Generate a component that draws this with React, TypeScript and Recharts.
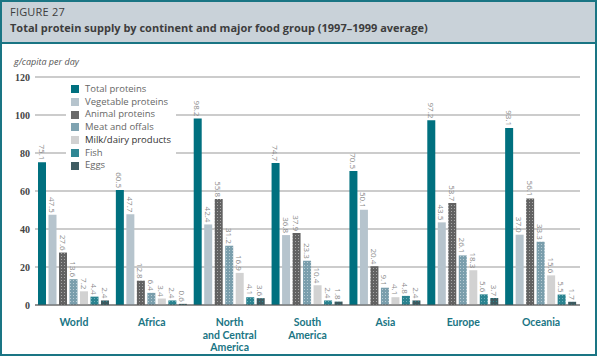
import React from 'react';
import { BarChart, Bar, XAxis, YAxis, CartesianGrid } from 'recharts';

const continents = ['World', 'Africa', 'North and Central America', 'South America', 'Asia', 'Europe', 'Oceania'];
const totalProteins = [75.1, 60.5, 98.2, 74.7, 70.5, 97.2, 93.1];
const vegetableProteins = [47.5, 47.7, 42.4, 36.8, 50.1, 43.5, 37.0];
const animalProteins = [27.6, 12.8, 55.8, 37.9, 20.4, 53.7, 56.1];
const meatOffals = [13.6, 6.4, 31.2, 23.3, 9.1, 26.1, 33.3];
const milkDairy = [7.2, 3.4, 16.9, 10.4, 4.1, 18.3, 15.6];
const fish = [4.4, 2.4, 4.1, 2.4, 4.8, 5.6, 5.5];
const eggs = [2.4, 0.6, 3.6, 1.8, 2.4, 3.7, 1.7];
const yTicks = [0, 20, 40, 60, 80, 100, 120];

const series = [
  { key: 'total', name: 'Total proteins', fill: '#00707f' },
  { key: 'veg', name: 'Vegetable proteins', fill: '#b6c4cd' },
  { key: 'animal', name: 'Animal proteins', fill: 'url(#patAnimal)', swatch: '#6a6a6a' },
  { key: 'meat', name: 'Meat and offals', fill: 'url(#patMeat)', swatch: '#7fa3b1' },
  { key: 'milk', name: 'Milk/dairy products', fill: '#d2d2d2' },
  { key: 'fish', name: 'Fish', fill: 'url(#patFish)', swatch: '#2f8794' },
  { key: 'eggs', name: 'Eggs', fill: 'url(#patEggs)', swatch: '#3f5c62' },
];

const data = continents.map((c, i) => ({
  name: c,
  total: totalProteins[i],
  veg: vegetableProteins[i],
  animal: animalProteins[i],
  meat: meatOffals[i],
  milk: milkDairy[i],
  fish: fish[i],
  eggs: eggs[i],
}));

const TEAL = '#1a7584';
const SANS = '"Open Sans", "DejaVu Sans", sans-serif';

const renderValue = (p: any) => {
  const cx = p.x + p.width / 2;
  const ty = p.y - 2;
  return (
    <text x={cx} y={ty} transform={`rotate(90 ${cx} ${ty})`} textAnchor="end" dominantBaseline="central"
      fontSize={8} fontFamily={SANS} fill="#8a8a8a">
      {Number(p.value).toFixed(1)}
    </text>
  );
};

// multi-line continent names under the axis
const CategoryTick = (props: any) => {
  const { x, y, payload } = props;
  const lines: Record<string, string[]> = {
    'North and Central America': ['North', 'and Central', 'America'],
    'South America': ['South', 'America'],
  };
  const parts = lines[payload.value] || [payload.value];
  return (
    <g>
      {parts.map((t, i) => (
        <text key={i} x={x} y={y + 13 + i * 12.7} textAnchor="middle" fontSize={10.5} fontWeight="bold" fontFamily="Lato, sans-serif" fill={TEAL}>
          {t}
        </text>
      ))}
    </g>
  );
};

const dotPattern = (id: string, bg: string, dot: string) => (
  <pattern id={id} width="3" height="3" patternUnits="userSpaceOnUse">
    <rect width="3" height="3" fill={bg} />
    <rect x="1" y="1" width="1" height="1" fill={dot} />
  </pattern>
);

export default function App() {
  return (
    <div style={{ position: 'fixed', left: 0, top: 0, width: 600, height: 356, background: '#fff' }}>
      <div style={{ position: 'absolute', left: 0, top: 0, width: 597, height: 356, boxSizing: 'border-box', border: `2px solid ${TEAL}` }} />
      <div style={{ position: 'absolute', left: 2, top: 2, width: 593, height: 40, background: '#c9d2d9', borderBottom: `2px solid ${TEAL}`, fontFamily: SANS, color: '#3d3d3d' }}>
        <div style={{ position: 'absolute', left: 8, top: 2, fontSize: 11, letterSpacing: 0.2 }}>FIGURE 27</div>
        <div style={{ position: 'absolute', left: 8, top: 18, fontSize: 11, fontWeight: 'bold' }}>
          Total protein supply by continent and major food group (1997–1999 average)
        </div>
      </div>
      <div style={{ position: 'absolute', left: 14, top: 55, fontFamily: SANS, fontSize: 9, fontStyle: 'italic', color: '#555' }}>
        g/capita per day
      </div>
      <div style={{ position: 'absolute', left: 0, top: 0 }}>
        <BarChart width={600} height={356} data={data} margin={{ top: 77, right: 20, left: 0, bottom: 21 }}
          barSize={8} barGap={2.5}>
          <defs>
            {dotPattern('patAnimal', '#626262', '#a8a8a8')}
            {dotPattern('patMeat', '#7a9eac', '#b8ccd4')}
            {dotPattern('patFish', '#2b8390', '#6fb0b8')}
            {dotPattern('patEggs', '#3d5a60', '#2a8a94')}
          </defs>
          <CartesianGrid horizontal vertical={false} stroke="#9a9a9a" strokeWidth={1.2} />
          <XAxis dataKey="name" tick={<CategoryTick />} tickLine={false} axisLine={{ stroke: '#555', strokeWidth: 1.2 }} interval={0} height={30} />
          <YAxis domain={[0, 120]} ticks={yTicks} width={35} tickSize={0} tickMargin={5} axisLine={false} tickLine={false}
            tick={{ fontSize: 10, fontWeight: 'bold', fill: '#444', fontFamily: '"Liberation Serif", serif' }} />
          {series.map((s) => (
            <Bar key={s.key} dataKey={s.key} name={s.name} fill={s.fill} isAnimationActive={false} label={renderValue} />
          ))}
        </BarChart>
      </div>
      <div style={{ position: 'absolute', left: 66, top: 83, background: '#fff', padding: '0 5px', fontFamily: SANS, fontSize: 9.5, lineHeight: '12.7px' }}>
        {series.map((s) => (
          <div key={s.key} style={{ display: 'flex', alignItems: 'center' }}>
            <span style={{ display: 'inline-block', width: 8, height: 8, background: s.swatch || s.fill, marginRight: 6 }} />
            <span style={{ color: s.key === 'milk' ? '#333' : '#666' }}>{s.name}</span>
          </div>
        ))}
      </div>
    </div>
  );
}
